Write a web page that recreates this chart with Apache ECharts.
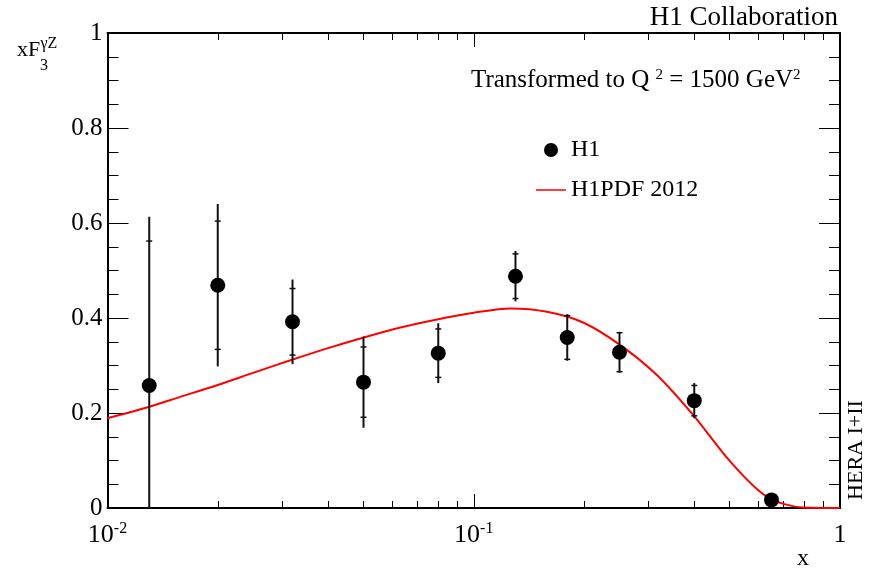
<!DOCTYPE html>
<html><head><meta charset="utf-8">
<script src="https://cdn.jsdelivr.net/npm/echarts@6/dist/echarts.min.js"></script>
<style>html,body{margin:0;padding:0;background:#fff}#c{width:876px;height:570px}</style>
</head><body><div id="c"></div>
<script>
// ---- data ----
const pointX  = [0.013, 0.02, 0.032, 0.05, 0.08, 0.13, 0.18, 0.25, 0.4, 0.65];
const pointY  = [0.258, 0.469, 0.392, 0.265, 0.326, 0.488, 0.359, 0.328, 0.226, 0.017];
const statErr = [0.304, 0.135, 0.070, 0.074, 0.051, 0.047, 0.046, 0.041, 0.032, 0.008];
const totErr  = [0.355, 0.171, 0.089, 0.096, 0.063, 0.053, 0.049, 0.043, 0.037, 0.010];

const curveX = [0.01, 0.0126, 0.0158, 0.02, 0.0251, 0.0316, 0.0398, 0.0501, 0.0631, 0.0794,
                0.1, 0.1259, 0.1585, 0.1995, 0.2512, 0.3162, 0.3981, 0.5012, 0.631, 0.7943, 1.0];
const curveY = [0.189, 0.210, 0.234, 0.259, 0.285, 0.311, 0.336, 0.359, 0.380, 0.397,
                0.411, 0.420, 0.413, 0.390, 0.343, 0.280, 0.195, 0.098, 0.024, 0.001, 0.0];

const xMajorTicks = [0.01, 0.1, 1];
const xMinorTicks = [0.02,0.03,0.04,0.05,0.06,0.07,0.08,0.09,0.2,0.3,0.4,0.5,0.6,0.7,0.8,0.9];
const xTickLabels = ['10{sup|-2}', '10{sup|-1}', '1'];
const yTickValues = [0, 0.2, 0.4, 0.6, 0.8, 1];
const yTickLabels = ['0', '0.2', '0.4', '0.6', '0.8', '1'];

const seriesNames = ['H1', 'H1PDF 2012'];

// ---- chart ----
const FONT = 'Liberation Serif';
const chart = echarts.init(document.getElementById('c'), null, {renderer: 'canvas'});

function xAx(pos, ticks, len, showLine, withLabels) {
  return {
    type: 'log', logBase: 10, min: 0.01, max: 1, position: pos, gridIndex: 0,
    axisLine: {show: showLine, onZero: false, lineStyle: {color: '#000', width: 2}},
    axisTick: {show: true, inside: true, length: len, customValues: ticks, lineStyle: {color: '#000', width: 1}},
    axisLabel: withLabels ? {
      show: true, customValues: xMajorTicks, margin: 13, color: '#000',
      fontFamily: FONT, fontSize: 26, lineHeight: 28,
      formatter: function (v) {
        for (let i = 0; i < xMajorTicks.length; i++) {
          if (Math.abs(Math.log10(v) - Math.log10(xMajorTicks[i])) < 1e-6) return xTickLabels[i];
        }
        return '';
      },
      rich: {sup: {fontFamily: FONT, fontSize: 16, lineHeight: 16, verticalAlign: 'top', color: '#000'}}
    } : {show: false},
    splitLine: {show: false}, minorTick: {show: false}, minorSplitLine: {show: false}
  };
}
function yAx(pos, withLabels) {
  return {
    type: 'value', min: 0, max: 1, interval: 0.2, position: pos, gridIndex: 0,
    axisLine: {show: true, onZero: false, lineStyle: {color: '#000', width: 2}},
    axisTick: {show: true, inside: true, length: 21, lineStyle: {color: '#000', width: 1}},
    minorTick: {show: true, splitNumber: 4, length: 11, lineStyle: {color: '#000', width: 1}},
    axisLabel: withLabels ? {
      show: true, margin: 5, color: '#000', fontFamily: FONT, fontSize: 25,
      formatter: function (v) {
        for (let i = 0; i < yTickValues.length; i++) if (Math.abs(v - yTickValues[i]) < 1e-9) return yTickLabels[i];
        return '';
      }
    } : {show: false},
    splitLine: {show: false}
  };
}

const errData = pointX.map((x, i) => [x, pointY[i], statErr[i], totErr[i]]);
const curveData = curveX.map((x, i) => [x, curveY[i]]);
const pointData = pointX.map((x, i) => [x, pointY[i]]);

const option = {
  animation: false,
  backgroundColor: '#fff',
  grid: {left: 107.5, right: 36, top: 33, bottom: 62},
  xAxis: [
    xAx('bottom', xMajorTicks, 14, true, true),
    xAx('bottom', xMinorTicks, 7, false, false),
    xAx('top', xMajorTicks, 14, true, false),
    xAx('top', xMinorTicks, 7, false, false)
  ],
  yAxis: [yAx('left', true), yAx('right', false)],
  legend: {
    orient: 'vertical', left: 536, top: 137, padding: 0,
    itemWidth: 30, itemHeight: 14, itemGap: 14, symbolKeepAspect: true,
    textStyle: {fontFamily: FONT, fontSize: 24, color: '#000', lineHeight: 26},
    data: [
      {name: seriesNames[0], icon: 'circle'},
      {name: seriesNames[1], icon: 'path://M0,0H20V1H0Z'}
    ]
  },
  series: [
    {
      name: seriesNames[1], type: 'line', xAxisIndex: 0, yAxisIndex: 0,
      data: curveData, smooth: 0.3, showSymbol: false, symbol: 'none',
      lineStyle: {color: '#ff0000', width: 2}, itemStyle: {color: '#ff0000'}, z: 2
    },
    {
      name: 'err', type: 'custom', xAxisIndex: 0, yAxisIndex: 0, clip: true,
      data: errData, encode: {x: 0, y: 1}, z: 3,
      renderItem: function (params, api) {
        const x = api.value(0), y = api.value(1), s = api.value(2), t = api.value(3);
        const top = api.coord([x, y + t]), bot = api.coord([x, y - t]);
        const sTop = api.coord([x, y + s]), sBot = api.coord([x, y - s]);
        const st = {stroke: '#111', lineWidth: 2};
        const cap = {stroke: '#111', lineWidth: 1.5};
        return {type: 'group', children: [
          {type: 'line', shape: {x1: top[0], y1: top[1], x2: bot[0], y2: bot[1]}, style: st},
          {type: 'line', shape: {x1: sTop[0] - 3, y1: sTop[1], x2: sTop[0] + 3, y2: sTop[1]}, style: cap},
          {type: 'line', shape: {x1: sBot[0] - 3, y1: sBot[1], x2: sBot[0] + 3, y2: sBot[1]}, style: cap}
        ]};
      }
    },
    {
      name: seriesNames[0], type: 'scatter', xAxisIndex: 0, yAxisIndex: 0,
      data: pointData, symbol: 'circle', symbolSize: 15,
      itemStyle: {color: '#000', opacity: 1}, z: 4
    }
  ],
  graphic: [
    {type: 'text', x: 838, y: 18, z: 10, style: {text: 'H1 Collaboration', fontFamily: FONT, fontSize: 27, fill: '#000', align: 'right', verticalAlign: 'middle'}},
    {type: 'text', x: 471, y: 68, z: 10, style: {
      text: 'Transformed to Q {sup|2} = 1500 GeV{sup|2}', fontFamily: FONT, fontSize: 25, lineHeight: 25, fill: '#000',
      align: 'left', verticalAlign: 'top',
      rich: {sup: {fontFamily: FONT, fontSize: 15, lineHeight: 15, verticalAlign: 'top', fill: '#000'}}
    }},
    {type: 'text', x: 17, y: 50, z: 10, style: {text: 'xF', fontFamily: FONT, fontSize: 22, fill: '#000', align: 'left', verticalAlign: 'middle'}},
    {type: 'text', x: 40, y: 66, z: 10, style: {text: '3', fontFamily: FONT, fontSize: 16, fill: '#000', align: 'left', verticalAlign: 'middle'}},
    {type: 'text', x: 40.5, y: 44, z: 10, style: {text: 'γZ', fontFamily: FONT, fontSize: 16, fill: '#000', align: 'left', verticalAlign: 'middle'}},
    {type: 'text', x: 803, y: 558.5, z: 10, style: {text: 'x', fontFamily: FONT, fontSize: 24, fill: '#000', align: 'center', verticalAlign: 'middle'}},
    {type: 'text', x: 856, y: 450, rotation: Math.PI / 2, z: 10, style: {text: 'HERA I+II', fontFamily: FONT, fontSize: 22, fill: '#000', align: 'center', verticalAlign: 'middle'}}
  ]
};
chart.setOption(option);
</script>
</body></html>
